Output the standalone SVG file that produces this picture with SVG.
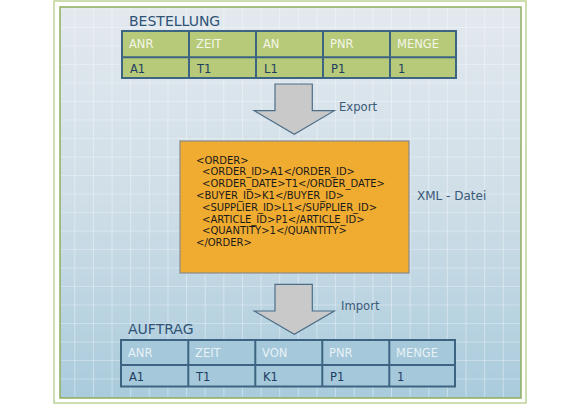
<svg xmlns="http://www.w3.org/2000/svg" width="577" height="406" viewBox="0 0 577 406">
<defs>
<linearGradient id="bg" x1="0" y1="0" x2="0" y2="1">
<stop offset="0" stop-color="#e3e9ef"/>
<stop offset="0.5" stop-color="#cfdee7"/>
<stop offset="1" stop-color="#a9cbdc"/>
</linearGradient>
<pattern id="grid" patternUnits="userSpaceOnUse" x="74.3" y="27" width="18.63" height="18.5">
<path d="M0 0V18.5M0 0H18.63" stroke="#ffffff" stroke-opacity="0.6" stroke-width="1.2" fill="none"/>
</pattern>
</defs>
<style>
.title{font-family:"DejaVu Sans",Verdana,sans-serif;font-size:14px;fill:#2f5275}
.lbl{font-family:"DejaVu Sans",Verdana,sans-serif;font-size:11.6px;fill:#3a5a78}
.hd1{font-family:"DejaVu Sans",Verdana,sans-serif;font-size:11.5px;fill:#f4f6e8}
.hd2{font-family:"DejaVu Sans",Verdana,sans-serif;font-size:11.5px;fill:#e8f2f7}
.dt{font-family:"DejaVu Sans",Verdana,sans-serif;font-size:11.5px;fill:#1f3d63}
.xml{font-family:"DejaVu Sans",Verdana,sans-serif;font-size:10px;fill:#1a1a1a}
.tbl{stroke:#3d6582;stroke-width:2}
.arrow{fill:#c9c9c9;stroke:#4d6e88;stroke-width:1.2}
</style>
<rect x="0" y="0" width="577" height="406" fill="#ffffff"/>
<rect x="54" y="1" width="472" height="402" fill="none" stroke="#bcd497" stroke-width="1.5"/>
<rect x="60" y="7" width="461" height="391" fill="url(#bg)" stroke="#8fae5c" stroke-width="1.5"/>
<rect x="61" y="8" width="459" height="389" fill="url(#grid)"/>

<g id="bestellung">
<text class="title" x="129" y="26">BESTELLUNG</text>
<rect class="tbl" x="122" y="31" width="334" height="47" fill="#b6ca79"/>
<path class="tbl" d="M122 57.3H456M189 31V78M256 31V78M323 31V78M390 31V78" fill="none"/>
<text class="hd1" x="129" y="48">ANR</text>
<text class="hd1" x="196" y="48">ZEIT</text>
<text class="hd1" x="263" y="48">AN</text>
<text class="hd1" x="330" y="48">PNR</text>
<text class="hd1" x="397" y="48">MENGE</text>
<text class="dt" x="130" y="73">A1</text>
<text class="dt" x="197" y="73">T1</text>
<text class="dt" x="264" y="73">L1</text>
<text class="dt" x="331" y="73">P1</text>
<text class="dt" x="398" y="73">1</text>
</g>

<g id="xml-datei">
<rect x="180" y="141" width="229" height="132" fill="#f0ab31" stroke="#8a8a8a" stroke-width="1.2"/>
<text class="xml" x="196" y="163.5">&lt;ORDER&gt;</text>
<text class="xml" x="202" y="175.3">&lt;ORDER_ID&gt;A1&lt;/ORDER_ID&gt;</text>
<text class="xml" x="202" y="187.1">&lt;ORDER_DATE&gt;T1&lt;/ORDER_DATE&gt;</text>
<text class="xml" x="196" y="198.9">&lt;BUYER_ID&gt;K1&lt;/BUYER_ID&gt;</text>
<text class="xml" x="202" y="210.7">&lt;SUPPLIER_ID&gt;L1&lt;/SUPPLIER_ID&gt;</text>
<text class="xml" x="202" y="222.5">&lt;ARTICLE_ID&gt;P1&lt;/ARTICLE_ID&gt;</text>
<text class="xml" x="202" y="234.3">&lt;QUANTITY&gt;1&lt;/QUANTITY&gt;</text>
<text class="xml" x="196" y="246.1">&lt;/ORDER&gt;</text>
<text class="lbl" x="417" y="199.5" style="font-size:12px">XML - Datei</text>
</g>

<g id="auftrag">
<text class="title" x="128" y="334">AUFTRAG</text>
<rect class="tbl" x="121" y="340" width="334" height="46.5" fill="#a5c8da"/>
<path class="tbl" d="M121 365H455M188.3 340V386.5M255.3 340V386.5M322.3 340V386.5M389.3 340V386.5" fill="none"/>
<text class="hd2" x="128" y="356.5">ANR</text>
<text class="hd2" x="195" y="356.5">ZEIT</text>
<text class="hd2" x="262" y="356.5">VON</text>
<text class="hd2" x="329" y="356.5">PNR</text>
<text class="hd2" x="396" y="356.5">MENGE</text>
<text class="dt" x="129" y="380.5">A1</text>
<text class="dt" x="196" y="380.5">T1</text>
<text class="dt" x="263" y="380.5">K1</text>
<text class="dt" x="330" y="380.5">P1</text>
<text class="dt" x="397" y="380.5">1</text>
</g>

<g id="connectors">
<path class="arrow" d="M275 84H312.3V110.7H334.3L294.3 134.3L254.3 110.7H275Z"/>
<text class="lbl" x="339" y="111">Export</text>
<path class="arrow" d="M275 284.3H312.3V311H334.3L294.3 334.3L254.3 311H275Z"/>
<text class="lbl" x="341" y="309.5">Import</text>
</g>
</svg>
